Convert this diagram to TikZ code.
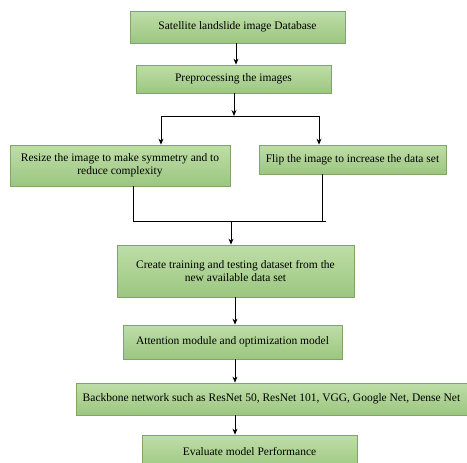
\documentclass[tikz,border=0pt]{standalone}
\usepackage{fontspec}
\setmainfont{Liberation Serif}
\usetikzlibrary{arrows.meta, calc}
\definecolor{cBoxTop}{RGB}{190,222,168}
\definecolor{cBoxBot}{RGB}{156,198,128}
\definecolor{cBoxLine}{RGB}{128,165,100}
\tikzset{
  %% green step box
  B/.style={rectangle, draw=cBoxLine, top color=cBoxTop, bottom color=cBoxBot,
            line width=0.8pt, inner sep=2pt, align=center,
            font=\fontsize{11.5}{13.5}\selectfont},
  %% arrows and plain lines
  A/.style={-{Stealth[length=6pt,width=5pt]}, line width=0.8pt, black},
  L/.style={line width=0.8pt, black},
}

\begin{document}
\begin{tikzpicture}[x=1pt, y=-1pt]

\useasboundingbox (0,0) rectangle (467,463);

%% ════════════════════════════════════════════════
%%  NODES  (absolute coordinates, y grows downwards)
%% ════════════════════════════════════════════════

\node[B, minimum width=215pt, minimum height=32pt] (db)  at (237.5, 27)  {Satellite landslide image Database};
\node[B, minimum width=195pt, minimum height=28pt] (pre) at (233.5, 79)  {Preprocessing the images};

%% ── two branches ──
\node[B, minimum width=220pt, minimum height=41pt] (rsz)  at (120, 165.5)  {Resize the image to make symmetry and to\\reduce complexity};
\node[B, minimum width=187pt, minimum height=29pt] (flip) at (352.5, 159.5) {Flip the image to increase the data set};

%% ── merged chain ──
\node[B, minimum width=237pt, minimum height=52pt] (mk)   at (235.5, 271) {Create training and testing dataset from the\\new available data set};
\node[B, minimum width=219pt, minimum height=34pt] (att)  at (232.5, 342) {Attention module and optimization model};
\node[B, minimum width=391pt, minimum height=32pt] (bb)   at (271.5, 399) {Backbone network such as ResNet 50, ResNet 101, VGG, Google Net, Dense Net};
%% bottom edge runs off the page, as in the original
\node[B, minimum width=215pt, minimum height=36pt] (eval) at (249.5, 453) {\raisebox{3pt}{Evaluate model Performance}};

%% split and merge points
\coordinate (spl)  at (234, 116);
\coordinate (splL) at (161, 116);
\coordinate (splR) at (319, 116);
\coordinate (mrgL) at (133, 221);
\coordinate (mrgR) at (326, 221);
\coordinate (mrg)  at (231, 221);

%% ════════════════════════════════════════════════
%%  ARROWS
%% ════════════════════════════════════════════════

\draw[A] (db.south -| 236,0) -- (pre.north -| 236,0);

%% Preprocessing → split
\draw[A] (pre.south -| spl) -- (spl);
\draw[L] (splL) -- (splR);
\draw[A] (splL) -- (splL |- rsz.north);
\draw[A] (splR) -- (splR |- flip.north);

%% branches → merge
\draw[L] (rsz.south -| mrgL) -- (mrgL);
\draw[L] (flip.south -| 322,0) -- (322,221);
\draw[L] (mrgL) -- (mrgR);
\draw[A] (mrg) -- (mrg |- mk.north);

%% chain
\draw[A] (mk.south -| 235,0)  -- (att.north -| 235,0);
\draw[A] (att.south -| 235,0) -- (bb.north -| 235,0);
\draw[A] (bb.south -| 235,0)  -- (eval.north -| 235,0);

\end{tikzpicture}
\end{document}
